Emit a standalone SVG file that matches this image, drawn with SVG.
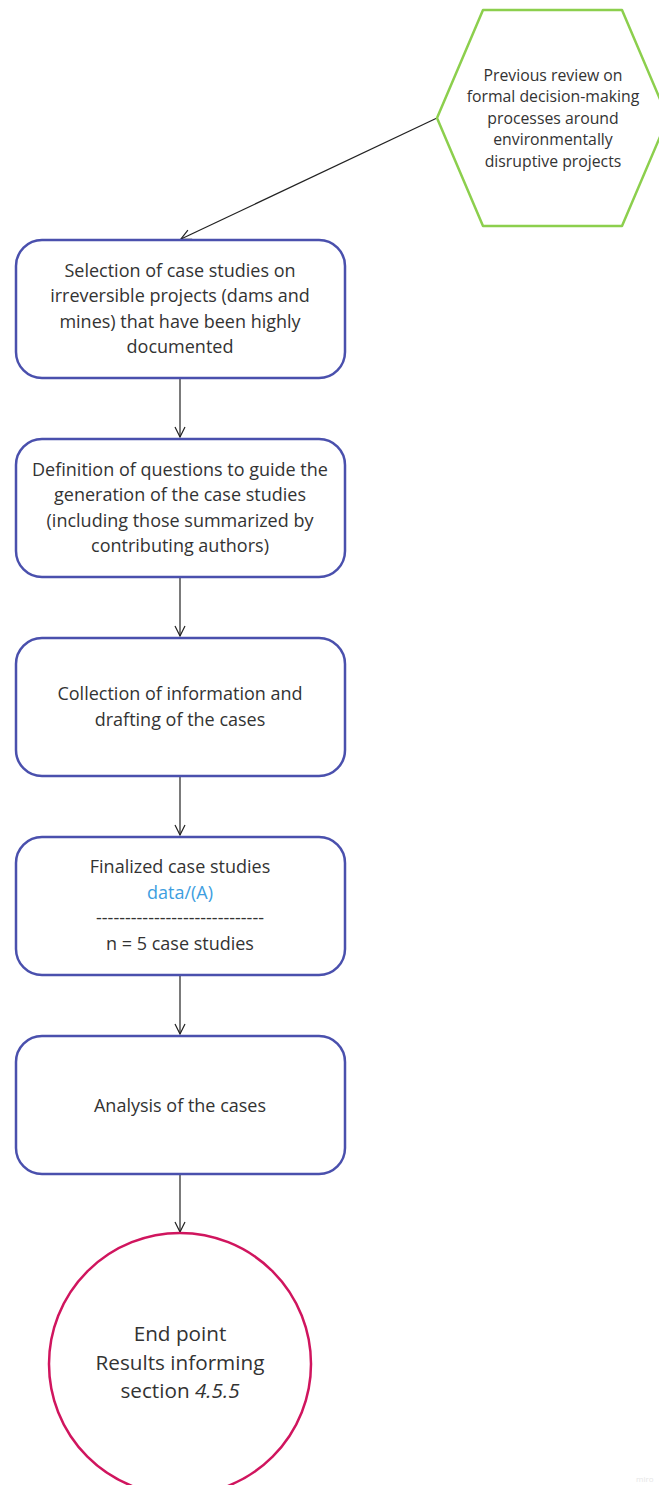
<svg xmlns="http://www.w3.org/2000/svg" width="659" height="1485" viewBox="0 0 659 1485">
<style>
.t{font-family:"Open Sans","Noto Sans","Liberation Sans",sans-serif;fill:#333333;text-anchor:middle}
.b{font-size:18px}
.box{fill:#ffffff;stroke:#4a50ad;stroke-width:2.5}
.con{stroke:#222222;stroke-width:1.2;fill:none}
</style>
<defs>
<marker id="ah" viewBox="0 0 12 12" refX="11" refY="6" markerWidth="12" markerHeight="12" markerUnits="userSpaceOnUse" orient="auto">
<path d="M1,1 L11,6 L1,11" fill="none" stroke="#222222" stroke-width="1.2"/>
</marker>
</defs>
<rect width="659" height="1485" fill="#ffffff"/>
<g id="connectors">
<line class="con" x1="437" y1="118" x2="181" y2="239" marker-end="url(#ah)"/>
<line class="con" x1="180" y1="379" x2="180" y2="437" marker-end="url(#ah)"/>
<line class="con" x1="180" y1="578" x2="180" y2="636" marker-end="url(#ah)"/>
<line class="con" x1="180" y1="777" x2="180" y2="835" marker-end="url(#ah)"/>
<line class="con" x1="180" y1="976" x2="180" y2="1034" marker-end="url(#ah)"/>
<line class="con" x1="180" y1="1174" x2="180" y2="1232" marker-end="url(#ah)"/>
</g>
<g id="hexagon">
<path d="M483,10 L622,10 L668,118 L622,226 L483,226 L437,118 Z" fill="#ffffff" stroke="#8ccf4d" stroke-width="2.5" stroke-linejoin="round"/>
<text class="t" font-size="15.8"><tspan x="553" y="81">Previous review on</tspan><tspan x="553" y="102">formal decision-making</tspan><tspan x="553" y="124">processes around</tspan><tspan x="553" y="145">environmentally</tspan><tspan x="553" y="167">disruptive projects</tspan></text>
</g>
<g id="box1">
<rect class="box" x="16" y="240" width="329" height="138" rx="26"/>
<text class="t b"><tspan x="180" y="277">Selection of case studies on</tspan><tspan x="180" y="302">irreversible projects (dams and</tspan><tspan x="180" y="328">mines) that have been highly</tspan><tspan x="180" y="353">documented</tspan></text>
</g>
<g id="box2">
<rect class="box" x="16" y="439" width="329" height="138" rx="26"/>
<text class="t b"><tspan x="180" y="476">Definition of questions to guide the</tspan><tspan x="180" y="501">generation of the case studies</tspan><tspan x="180" y="527">(including those summarized by</tspan><tspan x="180" y="552">contributing authors)</tspan></text>
</g>
<g id="box3">
<rect class="box" x="16" y="638" width="329" height="138" rx="26"/>
<text class="t b"><tspan x="180" y="700">Collection of information and</tspan><tspan x="180" y="726">drafting of the cases</tspan></text>
</g>
<g id="box4">
<rect class="box" x="16" y="837" width="329" height="138" rx="26"/>
<text class="t b"><tspan x="180" y="873">Finalized case studies</tspan><tspan x="180" y="899" style="fill:#3d9ee0">data/(A)</tspan><tspan x="180" y="924">-----------------------------</tspan><tspan x="180" y="950">n = 5 case studies</tspan></text>
</g>
<g id="box5">
<rect class="box" x="16" y="1036" width="329" height="138" rx="26"/>
<text class="t b"><tspan x="180" y="1112">Analysis of the cases</tspan></text>
</g>
<g id="endpoint">
<circle cx="180" cy="1364" r="131" fill="#ffffff" stroke="#d0155e" stroke-width="2.5"/>
<text class="t" font-size="20.7"><tspan x="180" y="1341">End point</tspan><tspan x="180" y="1370">Results informing</tspan><tspan x="180" y="1398">section <tspan font-style="italic">4.5.5</tspan></tspan></text>
</g>
<text x="636" y="1482" font-family="Open Sans, sans-serif" font-size="8" fill="#e6e6e6">miro</text>
</svg>
